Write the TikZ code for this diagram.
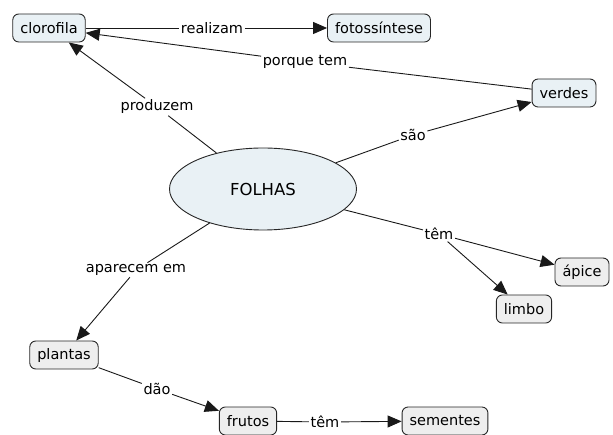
\documentclass[tikz,border=0pt]{standalone}
\usepackage{fontspec}
\setmainfont{DejaVu Sans}
\usetikzlibrary{arrows.meta,shapes.geometric}
\definecolor{bluefill}{HTML}{E9F1F5}
\definecolor{grayfill}{HTML}{EEEEEE}
\tikzset{
  concept/.style={draw=black!85, line width=0.9pt, rounded corners=6pt, minimum height=28pt, inner xsep=7.5pt, font=\fontsize{14.5}{16}\selectfont},
  bconcept/.style={concept, fill=bluefill},
  gconcept/.style={concept, fill=grayfill},
  lbl/.style={inner sep=1.5pt, font=\fontsize{14.5}{16}\selectfont},
  conn/.style={line width=0.9pt, draw=black!90},
  arr/.style={conn, -{Triangle[length=14pt,width=12pt]}}
}
\begin{document}
\begin{tikzpicture}[x=1pt,y=-1pt]
\useasboundingbox (0,0) rectangle (613,435);
% nodes
\node[ellipse, draw=black!85, line width=0.9pt, fill=bluefill, minimum width=187pt, minimum height=82pt, font=\fontsize{16.5}{18}\selectfont] (folhas) at (263,189) {FOLHAS};
\node[bconcept] (clorofila) at (49,28) {clorofila};
\node[bconcept] (foto) at (379,28) {fotossíntese};
\node[bconcept] (verdes) at (564,93) {verdes};
\node[gconcept] (apice) at (582,272) {ápice};
\node[gconcept] (limbo) at (524,309) {limbo};
\node[gconcept] (plantas) at (64,355) {plantas};
\node[gconcept] (frutos) at (248,421) {frutos};
\node[gconcept] (sementes) at (445,421) {sementes};
% labels
\node[lbl] (realizam) at (212,28) {realizam};
\node[lbl] (porque) at (305,62) {porque tem};
\node[lbl] (produzem) at (157,107) {produzem};
\node[lbl] (sao) at (413,135) {são};
\node[lbl] (tem1) at (439,234) {têm};
\node[lbl] (aparecem) at (136,270) {aparecem em};
\node[lbl] (dao) at (157,389) {dão};
\node[lbl] (tem2) at (325,422) {têm};
% connectors
\draw[conn] (clorofila) -- (realizam);
\draw[arr] (realizam) -- (foto);
\draw[conn] (verdes) -- (porque);
\draw[arr] (porque) -- (clorofila);
\draw[conn] (folhas) -- (produzem);
\draw[arr] (produzem) -- (clorofila);
\draw[conn] (folhas) -- (sao);
\draw[arr] (sao) -- (verdes);
\draw[conn] (folhas) -- (tem1);
\draw[arr] (tem1) -- (apice);
\draw[arr] (tem1) -- (limbo);
\draw[conn] (folhas) -- (aparecem);
\draw[arr] (aparecem) -- (plantas);
\draw[conn] (plantas) -- (dao);
\draw[arr] (dao) -- (frutos);
\draw[conn] (frutos) -- (tem2);
\draw[arr] (tem2) -- (sementes);
\end{tikzpicture}
\end{document}
